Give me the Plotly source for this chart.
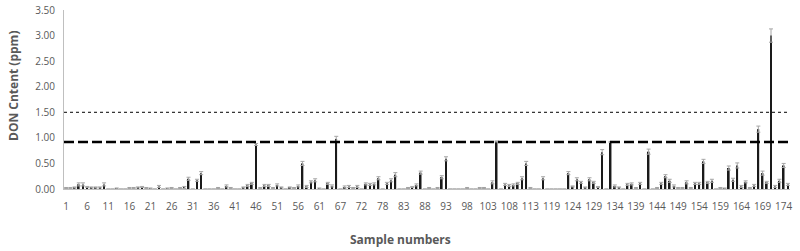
import plotly.graph_objects as go

# Sample numbers (categories); three sample numbers are absent in the series
missing = {64, 75, 116}
samples = [str(n) for n in range(1, 176) if n not in missing]

don_values = [
    0.02, 0.02, 0.03, 0.09, 0.09, 0.04, 0.03, 0.03, 0.03, 0.09,
    0.00, 0.00, 0.01, 0.00, 0.00, 0.02, 0.02, 0.03, 0.04, 0.02,
    0.01, 0.00, 0.05, 0.00, 0.01, 0.02, 0.00, 0.02, 0.03, 0.20,
    0.00, 0.17, 0.31, 0.00, 0.00, 0.00, 0.02, 0.00, 0.06, 0.02,
    0.00, 0.00, 0.03, 0.07, 0.11, 0.87, 0.02, 0.07, 0.07, 0.02,
    0.08, 0.03, 0.00, 0.03, 0.02, 0.06, 0.50, 0.05, 0.14, 0.17,
    0.01, 0.00, 0.11, 0.06, 0.98, 0.00, 0.04, 0.05, 0.02, 0.05,
    0.00, 0.10, 0.09, 0.10, 0.21, 0.00, 0.11, 0.17, 0.28, 0.00,
    0.00, 0.02, 0.04, 0.08, 0.32, 0.00, 0.02, 0.00, 0.02, 0.23,
    0.59, 0.00, 0.00, 0.00, 0.00, 0.02, 0.00, 0.00, 0.02, 0.02,
    0.00, 0.13, 0.93, 0.00, 0.09, 0.07, 0.08, 0.11, 0.21, 0.50,
    0.02, 0.00, 0.00, 0.21, 0.00, 0.00, 0.00, 0.00, 0.00, 0.31,
    0.05, 0.19, 0.13, 0.03, 0.19, 0.13, 0.04, 0.72, 0.00, 0.92,
    0.06, 0.03, 0.00, 0.09, 0.10, 0.02, 0.11, 0.00, 0.73, 0.00,
    0.02, 0.11, 0.25, 0.16, 0.06, 0.02, 0.02, 0.13, 0.02, 0.11,
    0.11, 0.54, 0.13, 0.16, 0.00, 0.02, 0.01, 0.41, 0.18, 0.46,
    0.05, 0.14, 0.02, 0.07, 1.17, 0.31, 0.13, 3.00, 0.05, 0.16,
    0.46, 0.09,
]

don_errors = [
    0.01, 0.01, 0.01, 0.03, 0.03, 0.01, 0.01, 0.01, 0.01, 0.03,
    0.00, 0.00, 0.01, 0.00, 0.00, 0.01, 0.01, 0.01, 0.01, 0.01,
    0.01, 0.00, 0.02, 0.00, 0.01, 0.01, 0.00, 0.01, 0.02, 0.03,
    0.00, 0.02, 0.03, 0.00, 0.00, 0.00, 0.01, 0.00, 0.02, 0.01,
    0.00, 0.00, 0.01, 0.02, 0.02, 0.02, 0.01, 0.02, 0.02, 0.01,
    0.02, 0.01, 0.00, 0.01, 0.01, 0.02, 0.04, 0.02, 0.02, 0.03,
    0.01, 0.00, 0.02, 0.02, 0.05, 0.00, 0.02, 0.02, 0.01, 0.02,
    0.00, 0.02, 0.02, 0.02, 0.03, 0.00, 0.02, 0.03, 0.04, 0.00,
    0.00, 0.01, 0.01, 0.02, 0.03, 0.00, 0.01, 0.00, 0.01, 0.03,
    0.04, 0.00, 0.00, 0.00, 0.00, 0.01, 0.00, 0.00, 0.01, 0.01,
    0.00, 0.03, 0.01, 0.00, 0.02, 0.02, 0.02, 0.02, 0.03, 0.04,
    0.01, 0.00, 0.00, 0.03, 0.00, 0.00, 0.00, 0.00, 0.00, 0.03,
    0.01, 0.03, 0.02, 0.01, 0.03, 0.02, 0.01, 0.05, 0.00, 0.01,
    0.02, 0.01, 0.00, 0.02, 0.02, 0.01, 0.02, 0.00, 0.05, 0.00,
    0.01, 0.02, 0.03, 0.03, 0.02, 0.01, 0.01, 0.03, 0.01, 0.02,
    0.02, 0.04, 0.02, 0.03, 0.00, 0.01, 0.01, 0.04, 0.03, 0.05,
    0.02, 0.02, 0.01, 0.02, 0.06, 0.04, 0.02, 0.13, 0.02, 0.03,
    0.04, 0.02,
]

tick_labels = ["1", "6", "11", "16", "21", "26", "31", "36", "41", "46",
               "51", "56", "61", "67", "72", "78", "83", "88", "93", "98",
               "103", "108", "113", "119", "124", "129", "134", "139", "144",
               "149", "154", "159", "164", "169", "174"]

y_ticks = [0.0, 0.5, 1.0, 1.5, 2.0, 2.5, 3.0, 3.5]
limit_dotted = 1.5
limit_dashed = 0.92

x_title = "Sample numbers"
y_title = "DON Cntent (ppm)"

font_family = "Open Sans, Liberation Sans, sans-serif"
grey = "#595959"

fig = go.Figure()
fig.add_trace(go.Bar(
    x=samples, y=don_values,
    marker=dict(color="#1a1a1a", line=dict(width=0)),
    error_y=dict(type="data", array=don_errors, visible=True,
                 color="#a6a6a6", thickness=1, width=2),
    showlegend=False,
))

fig.add_hline(y=limit_dotted, line=dict(color="#000000", width=1, dash="dot"))
fig.add_hline(y=limit_dashed, line=dict(color="#000000", width=2.5, dash="10px,4px"))

fig.add_annotation(text="<b>" + x_title + "</b>", xref="paper", yref="paper",
                   x=(400 - 64) / 726, y=-(240 - 189) / 179, xanchor="center", yanchor="middle",
                   showarrow=False, font=dict(size=12, color=grey))
fig.add_annotation(text="<b>" + y_title + "</b>", xref="paper", yref="paper",
                   x=-(64 - 13) / 726, y=(189 - 86) / 179, xanchor="center", yanchor="middle",
                   textangle=-90, showarrow=False, font=dict(size=12, color=grey))

fig.update_layout(
    width=800, height=251,
    margin=dict(l=64, r=10, t=10, b=62, autoexpand=False),
    paper_bgcolor="white", plot_bgcolor="white",
    bargap=0.6,
    font=dict(family=font_family, color=grey, size=10),
    xaxis=dict(
        type="category", categoryorder="array", categoryarray=samples,
        tickmode="array", tickvals=tick_labels, ticktext=tick_labels,
        tickangle=0, automargin=False,
        showline=True, linecolor="#bfbfbf", linewidth=1,
        ticks="outside", ticklen=8, tickcolor="rgba(0,0,0,0)",
        showgrid=False, zeroline=False,
        tickfont=dict(size=10, color=grey),
    ),
    yaxis=dict(
        range=[0, 3.5], tickmode="array", tickvals=y_ticks,
        tickformat=".2f", automargin=False,
        showline=True, linecolor="#bfbfbf", linewidth=1,
        ticks="outside", ticklen=6, tickcolor="rgba(0,0,0,0)",
        showgrid=False, zeroline=False,
        tickfont=dict(size=10, color=grey),
    ),
)

fig.write_html("out.html",
               config={"displayModeBar": False},
               post_script="document.body.style.margin='0';document.body.style.overflow='hidden';")
